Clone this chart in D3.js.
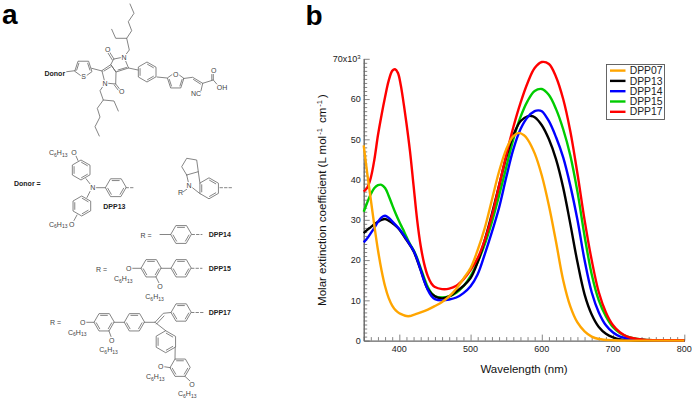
<!DOCTYPE html>
<html><head><meta charset="utf-8">
<script src="https://cdn.jsdelivr.net/npm/d3@7/dist/d3.min.js"></script>
<style>html,body{margin:0;background:#fff}svg{display:block}text{font-family:"Liberation Sans",Arial,sans-serif}</style>
</head><body><div id="c"></div>
<script>
const seriesNames=["DPP07","DPP13","DPP14","DPP15","DPP17"];
const seriesColors=["#ffa500","#000000","#0000ff","#00cc00","#ff0000"];
const xTicks=[400,500,600,700,800];
const yTicks=[0,10,20,30,40,50,60];
const DPP07=[[350,48.5],[355,41.5],[360,35],[365,28.5],[370,22.5],[375,17.5],[380,13.5],[385,10.6],[390,8.7],[395,7.5],[400,6.8],[405,6.4],[410,6.1],[415,6.1],[420,6.4],[430,7],[440,7.7],[450,8.6],[460,9.6],[470,11],[480,12.9],[490,15.4],[500,18],[510,22.5],[520,28],[530,35],[540,42],[550,47.5],[560,50.8],[568,51.6],[575,51],[580,50],[590,46.5],[600,41],[610,33.5],[620,24.5],[630,15],[640,8.5],[650,4.5],[660,2.3],[670,1],[680,.4],[700,.1],[800,0]];
const DPP13=[[350,26.7],[355,27.5],[360,28.2],[365,28.9],[370,29.5],[375,30],[380,30.2],[385,29.8],[390,29.2],[395,28.5],[400,27.6],[410,25],[420,22.2],[430,17.5],[440,12.8],[450,11],[460,10.5],[470,11],[480,12.2],[490,13.6],[500,15.5],[510,19.5],[520,25],[530,31.5],[540,38.5],[550,45.5],[560,51],[570,54.5],[580,55.7],[585,55.8],[590,55.5],[600,53.5],[610,50],[620,45],[630,38],[640,29],[650,19.5],[660,11.5],[670,6.5],[680,3.4],[690,1.7],[700,.8],[710,.3],[730,.1],[800,0]];
const DPP14=[[350,24.4],[355,25.4],[360,26.7],[365,28],[370,29.5],[375,30.6],[380,31],[385,30.5],[390,29.6],[395,28.7],[400,27.7],[405,26.5],[410,25.2],[415,23.8],[420,22.3],[425,20.2],[430,17.5],[435,14.8],[440,12.6],[445,11.1],[450,10.3],[460,10],[470,10.2],[480,10.7],[490,11.8],[500,13.5],[510,16.5],[520,21.5],[530,27],[540,33],[550,40.5],[560,47.5],[570,52.5],[580,55.5],[590,57],[595,57.2],[600,57],[610,54.5],[620,50.5],[630,45.5],[640,38.5],[650,30],[660,20],[670,12],[680,7],[690,3.8],[700,2],[710,1],[730,.3],[800,0]];
const DPP15=[[350,32],[355,34.3],[360,36.4],[365,37.9],[370,38.6],[375,38.7],[380,37.9],[385,36],[390,33.7],[395,31.5],[400,29.5],[405,27.7],[410,25.8],[415,24],[420,22.5],[425,20.5],[430,18],[435,15.5],[440,13.3],[445,11.8],[450,11],[460,10.7],[470,11],[480,11.9],[490,13.5],[500,16],[510,19.5],[520,24],[530,29.5],[540,36],[550,43],[560,50],[570,55.5],[580,59.5],[590,62],[600,62.5],[610,61],[620,57.5],[630,52.5],[640,46],[650,37],[660,26],[670,16.5],[680,10],[690,6],[700,3.3],[710,1.8],[720,1],[740,.3],[800,.1]];
const DPP17=[[350,37],[355,38],[360,40.5],[365,45],[370,51],[375,56],[380,60.5],[385,64.5],[390,67],[394,67.4],[398,66.5],[402,63.5],[406,59],[410,54],[415,47],[420,38.5],[425,30],[430,23.5],[435,19],[440,16],[445,14.2],[450,13.3],[460,12.8],[470,12.9],[480,13.6],[490,15.2],[500,17.5],[510,20.5],[520,25],[530,31],[540,38.5],[550,46],[560,53],[570,59],[580,64],[590,67.7],[600,69.2],[610,68.7],[620,65.5],[630,60],[640,52],[650,41.5],[660,30],[670,20],[680,12],[690,7],[700,3.8],[710,2],[720,1],[740,.3],[800,.1]];
const drawOrder=[["DPP15",DPP15],["DPP13",DPP13],["DPP14",DPP14],["DPP17",DPP17],["DPP07",DPP07]];

const svg=d3.select("#c").append("svg").attr("width",697).attr("height",402);
const x=d3.scaleLinear().domain([350,800]).range([363.7,684.3]);
const y=d3.scaleLinear().domain([0,70]).range([340.6,58.8]);
const axisColor="#666", labelColor="#222";

svg.append("text").attr("x",2).attr("y",24).attr("font-size",28).attr("font-weight","bold").text("a");
svg.append("text").attr("x",305.5).attr("y",25).attr("font-size",28).attr("font-weight","bold").text("b");

// axes
const gx=svg.append("g").attr("transform",`translate(0,${y(0)})`);
gx.call(d3.axisBottom(x).tickValues(d3.range(350,801,10)).tickSize(0).tickFormat(""));
gx.select(".domain").attr("stroke",axisColor).attr("stroke-width",1.4);
gx.selectAll(".tick line").attr("stroke",axisColor).attr("stroke-width",.8).attr("y2",d=>d%100===0?-6:-3.5);
gx.selectAll(".tl").data(xTicks).join("text").attr("class","tl").attr("x",d=>x(d)).attr("y",11.6).attr("text-anchor","middle").attr("font-size",9).attr("fill",labelColor).text(d=>d);
const gy=svg.append("g").attr("transform",`translate(${x(350)},0)`);
gy.call(d3.axisLeft(y).tickValues(d3.range(0,70.1,1)).tickSize(0).tickFormat(""));
gy.select(".domain").attr("stroke",axisColor).attr("stroke-width",1.4);
gy.selectAll(".tick line").attr("stroke",axisColor).attr("stroke-width",.8).attr("x2",d=>d%10===0?6:3.5);
gy.selectAll(".tl").data(yTicks).join("text").attr("class","tl").attr("x",-3).attr("y",d=>y(d)+3.2).attr("text-anchor","end").attr("font-size",9).attr("fill",labelColor).text(d=>d);
const topLabel=gy.append("text").attr("x",-3).attr("y",y(70)+3.2).attr("text-anchor","end").attr("font-size",9).attr("fill",labelColor);
topLabel.append("tspan").text("70x10");
topLabel.append("tspan").attr("font-size",6).attr("dy",-3.5).text("3");

svg.append("text").attr("x",524).attr("y",372.5).attr("text-anchor","middle").attr("font-size",11.5).attr("fill","#111").text("Wavelength (nm)");
const yl=svg.append("text").attr("transform","translate(326,200) rotate(-90)").attr("text-anchor","middle").attr("font-size",11.5).attr("fill","#111");
yl.append("tspan").text("Molar extinction coefficient (L mol");
yl.append("tspan").attr("font-size",7.5).attr("dy",-4).attr("dx",1).text("-1");
yl.append("tspan").attr("dy",4).attr("dx",2).text(" cm");
yl.append("tspan").attr("font-size",7.5).attr("dy",-4).attr("dx",1).text("-1");
yl.append("tspan").attr("dy",4).attr("dx",2).text(")");

// curves
const line=d3.line().x(d=>x(d[0])).y(d=>y(d[1])).curve(d3.curveCatmullRom.alpha(.5));
drawOrder.forEach(([n,s])=>{
  svg.append("path").attr("d",line(s)).attr("fill","none").attr("stroke",seriesColors[seriesNames.indexOf(n)]).attr("stroke-width",2.4).attr("stroke-linejoin","round");
});

// legend
const lg=svg.append("g");
lg.append("rect").attr("x",606.5).attr("y",64.5).attr("width",58).attr("height",55).attr("fill","#fff").attr("stroke","#555").attr("stroke-width",.9);
seriesNames.forEach((n,i)=>{
  const ly=70.6+i*10.3;
  lg.append("line").attr("x1",610).attr("x2",625.5).attr("y1",ly).attr("y2",ly).attr("stroke",seriesColors[i]).attr("stroke-width",2.4);
  lg.append("text").attr("x",629.7).attr("y",ly+3.6).attr("font-size",10.4).attr("fill","#222").text(n);
});

// chemical scheme (panel a)
const chem=svg.append("g").attr("stroke","#666").attr("stroke-width",.8).attr("fill","none").attr("stroke-linecap","round");
function poly(pts,close){chem.append("path").attr("d",(close?d3.line().curve(d3.curveLinearClosed):d3.line())(pts));}
function ring(cx,cy,r,rot,n=6,doubles=[0,2,4]){
  const pts=d3.range(n).map(i=>{const a=(rot+i*360/n)*Math.PI/180;return [cx+r*Math.cos(a),cy+r*Math.sin(a)];});
  poly(pts,true);
  doubles.forEach(i=>{const p=pts[i],q=pts[(i+1)%n],f=.8,m=.85;
    const a=[cx+(p[0]-cx)*f,cy+(p[1]-cy)*f],b=[cx+(q[0]-cx)*f,cy+(q[1]-cy)*f];
    const mx=(a[0]+b[0])/2,my=(a[1]+b[1])/2;
    poly([[mx+(a[0]-mx)*m,my+(a[1]-my)*m],[mx+(b[0]-mx)*m,my+(b[1]-my)*m]]);});
}
function dash(x1,y1,x2,y2){chem.append("line").attr("x1",x1).attr("y1",y1).attr("x2",x2).attr("y2",y2).attr("stroke-dasharray","2.5 2");}
function lab(t,px,py,o={}){
  const s=svg.append("text").attr("x",px).attr("y",py).attr("font-size",o.size||7).attr("fill",o.bold?"#222":"#444").attr("font-weight",o.bold?"bold":"normal").attr("text-anchor",o.anchor||"start");
  if(o.halo)s.attr("paint-order","stroke").attr("stroke","#fff").attr("stroke-width",2.2);
  if(t==="C6H13"){s.append("tspan").text("C");s.append("tspan").attr("font-size",5).attr("dy",1.6).text("6");s.append("tspan").attr("dy",-1.6).text("H");s.append("tspan").attr("font-size",5).attr("dy",1.6).text("13");}
  else s.text(t);
}
function atom(t,cx,cy){lab(t,cx,cy+2.5,{anchor:"middle",halo:true});}
// DPP bicyclic core
poly([[114,59],[124,57],[128.5,68],[116,72],[111,65]],true);
poly([[102,71],[105,83],[115.7,84],[116,72],[111,65]],true);
poly([[118,70],[126.5,67.5]]);poly([[104,71],[110.5,67]]);
poly([[114,59],[109.5,52]]);poly([[112.3,60],[108,53]]);
poly([[115.7,84],[120,89.5]]);poly([[114.3,85],[118.5,90.5]]);
poly([[128.5,68],[138,70]]);poly([[102,71],[91.7,68.3]]);
// N-alkyl chains
poly([[124,57],[129.3,50],[126.7,38.3],[131.7,30.7],[128.3,21.7],[134,13.3],[130,4]]);
poly([[126.7,38.3],[115.7,38.3],[111.7,29.3]]);
poly([[105,83.3],[100,90.7],[103.3,100],[97.3,108.3],[100,117],[95,126.7],[99.3,136]]);
poly([[103.3,100],[114,101],[118.3,111]]);
// thiophene
ring(83.3,68.5,9,90,5,[1,3]);
poly([[66.7,71.7],[75,70.7]]);
// phenyl, furan, acid
ring(147,72,10,30);
poly([[157,77],[167,78]]);
ring(175.7,81,8.6,-90,5,[1,3]);
poly([[183.5,78.5],[192.7,77.3],[202.7,83.3],[213.3,80],[213.3,74]]);
poly([[193.5,79.5],[200.5,84]]);
poly([[211.8,80],[211.8,74.5]]);
poly([[213.3,80],[216.7,84]]);
poly([[202.7,83.3],[201,90.7]]);
// triarylamine donor
ring(81,170,10,30);
ring(81.7,206,10,30);
ring(115.7,187.7,10.3,0);
poly([[86,178.7],[90.5,184.5]]);poly([[90,191.5],[87,197.5]]);
poly([[95.5,187.7],[105.4,187.7]]);
poly([[78,160.5],[76,156]]);poly([[77,215],[74,220.5]]);
dash(126,187.7,135,187.7);
// fused donor
ring(209,188.3,10.5,30);
poly([[186.7,175],[181.7,166.7],[186.7,158.3],[196.7,160],[198.3,171.7],[186.7,175]]);
poly([[186.7,175],[188.3,182]]);
poly([[198.3,171.7],[199.9,183]]);
poly([[191.5,187],[199.9,193.6]]);
poly([[187,189],[183,192]]);
dash(220,187.7,232,187.7);
// DPP14 R
ring(181,234.5,10.3,0);
poly([[160,234.5],[170.7,234.5]]);
dash(192,234.5,202,234.5);
// DPP15 R
ring(151,268.3,10,0);
ring(181,268.3,10,0);
poly([[161,268.3],[171,268.3]]);
poly([[141,268.3],[131.5,268.3]]);
poly([[156,277],[159,283]]);
dash(191.5,268.3,202,268.3);
// DPP17 R
ring(104,322.3,10,0);
ring(134.3,322.3,10,0);
ring(181,312.5,10,0);
ring(165.7,341.7,11,30);
ring(180,367.7,10,0);
poly([[114,322.3],[124.3,322.3]]);
poly([[144.3,322.3],[155,322.3],[163.3,313.3],[171,312.5]]);
poly([[156.5,324],[164,316]]);
poly([[155,322.3],[165.7,330.7]]);
poly([[175.2,347.2],[175,359]]);
poly([[94,322.3],[86,322.3]]);
poly([[109,331],[111,336.5]]);
poly([[170.5,367.7],[164,366.7]]);
poly([[185,376.4],[190,381]]);
dash(191.5,312.5,203,312.5);
// scheme labels
lab("Donor",44.5,75.5,{bold:true});
lab("Donor =",14,186,{bold:true});
lab("DPP13",103.3,209,{bold:true});
lab("DPP14",208.7,237,{bold:true});
lab("DPP15",208.7,271,{bold:true});
lab("DPP17",208.7,315,{bold:true});
atom("O",107.7,49.3);atom("O",121.7,91.7);
atom("N",124,57.3);atom("N",105,83.3);
atom("S",83.5,76);atom("O",175.7,74);
atom("O",213.7,70.7);lab("OH",216.7,90);lab("NC",191,96.3);
lab("C6H13",49,155);atom("O",74,152.3);
atom("N",92.7,187.7);lab("C6H13",49,226.5);atom("O",71.7,224);
lab("R",178,195);atom("N",189,185.5);
lab("R =",140.5,238);lab("R =",96,272);lab("R =",50,325);
atom("O",128.7,268.3);lab("C6H13",114,281);atom("O",160,286.7);lab("C6H13",145.3,299);
atom("O",82.7,322.3);lab("C6H13",68,334.5);atom("O",111.7,340);lab("C6H13",99.3,352);
atom("O",160.7,366.7);lab("C6H13",146,379);atom("O",192,384.3);lab("C6H13",178,396);
</script></body></html>
